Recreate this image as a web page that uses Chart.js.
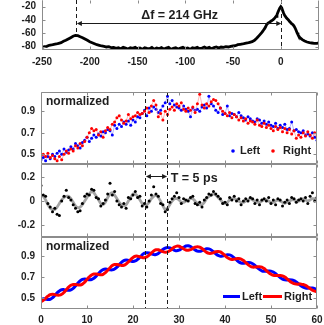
<!DOCTYPE html>
<html>
<head>
<meta charset="utf-8">
<script src="https://cdn.jsdelivr.net/npm/chart.js@4.4.1/dist/chart.umd.min.js"></script>
<style>
    html, body { margin: 0; padding: 0; background: #fff; }
    #wrap { position: relative; width: 324px; height: 325px; overflow: hidden; }
    canvas { position: absolute; left: 0; }
</style>
</head>
<body>
<div id="wrap">
    <canvas id="spec" width="324" height="70" style="top:0px;width:324px;height:70px"></canvas>
    <canvas id="raw" width="324" height="80" style="top:88px;width:324px;height:80px"></canvas>
    <canvas id="diff" width="324" height="81" style="top:160px;width:324px;height:81px"></canvas>
    <canvas id="fit" width="324" height="92" style="top:233px;width:324px;height:92px"></canvas>
</div>
<script>
// ---- spectrum (GHz, dB) ----
const specF = [
    -250, -247.5, -245, -242.5, -240, -237.5, -235, -232.5, -230, -227.5,
    -225, -222.5, -220, -217.5, -215, -212.5, -210, -207.5, -205, -202.5,
    -200, -197.5, -195, -192.5, -190, -187.5, -185, -182.5, -180, -177.5,
    -175, -172.5, -170, -167.5, -165, -162.5, -160, -157.5, -155, -152.5,
    -150, -147.5, -145, -142.5, -140, -137.5, -135, -132.5, -130, -127.5,
    -125, -122.5, -120, -117.5, -115, -112.5, -110, -107.5, -105, -102.5,
    -100, -97.5, -95, -92.5, -90, -87.5, -85, -82.5, -80, -77.5,
    -75, -72.5, -70, -67.5, -65, -62.5, -60, -57.5, -55, -52.5,
    -50, -47.5, -45, -42.5, -40, -37.5, -35, -32.5, -30, -27.5,
    -25, -22.5, -20, -19, -18, -17, -16, -15, -14, -13,
    -12, -11, -10, -9, -8, -7, -6, -5, -4, -3,
    -2, -1, 0, 1, 2, 3, 4, 5, 6, 7,
    8, 9, 10, 11, 12, 13, 14, 15, 16, 17,
    18, 19, 20, 22.5, 25, 27.5, 30, 32.5, 35, 37.5, 40
];
const specP = [
    -81, -80, -79.5, -78, -77.5, -76.5, -76, -75, -74, -72,
    -70.5, -68.5, -66.5, -64.5, -63, -63.5, -65, -66.5, -68.5, -70.5,
    -72.5, -74, -75.5, -77, -78, -79, -79.5, -80.5, -80, -81.5,
    -81, -82.5, -81.5, -83, -81, -82, -83.5, -81.5, -82.5, -81,
    -83, -82, -84, -81.5, -82.5, -83, -81, -84, -82, -83,
    -81.5, -83.5, -82, -81, -84, -82.5, -81.5, -83.5, -82, -81,
    -83, -82, -84, -81.5, -82.5, -81, -83, -82, -80.5, -82.5,
    -81, -83, -81.5, -80.5, -82, -80.5, -81, -80, -80.5, -79.5,
    -79, -78.5, -77, -76.5, -76, -75, -74.5, -73.5, -72.5, -70.5,
    -67, -63, -59, -57, -55, -53, -50.5, -47.5, -45.5, -44.5,
    -43.5, -42.5, -41.5, -40.5, -39.5, -38, -36.5, -34.5, -32, -28.5,
    -25, -22, -20, -22, -26, -30, -33, -35, -37, -38.5,
    -40, -42, -43.5, -45, -46, -47.5, -49.5, -52, -55.5, -59,
    -62, -64.5, -66.5, -69.5, -71.5, -73, -74, -74.5, -75, -75, -74.5
];
const specXTicks = [-250, -200, -150, -100, -50, 0];
const specYTicks = [-80, -60, -40, -20];
const peakPair = [-214, 0];

// ---- time traces (ps), sampled every 0.5 ps ----
const delay = Array.from({ length: 121 }, (_, i) => i * 0.5);

const dotLeft = [
    .45,
    .47, .44, .48, .46,  .50, .48, .51, .53,  .50, .55, .52, .54,  .57, .55, .60, .58,
    .56, .61, .63, .66,  .62, .65, .68, .66,  .69, .67, .71, .70,  .73, .72, .68, .77,
    .74, .78, .76, .80,  .78, .81, .77, .82,  .80, .85, .84, .88,  .91, .86, .93, .90,
    .94, .92, .89, .91,  .95, .98, 1.04, .97, 1.0, .96, .94, .93,  .91, .95, .92, .90,
    .85, .93, .91, .92,  .90, .94, .96, .93,  1.04, .97, .95, .91, .89, .93, .87, .88,
    .95, .86, .88, .87,  .85, .89, .86, .84,  .82, .85, .83, .81,  .80, .83, .82, .79,
    .81, .78, .80, .77,  .76, .79, .74, .77,  .75, .78, .73, .74,  .80, .72, .73, .71,
    .70, .72, .68, .69,  .67, .70, .66, .63
];
const dotRight = [
    .49,
    .50, .48, .51, .47,  .49, .46, .44, .48,  .45, .50, .53, .51,  .55, .53, .58, .56,
    .60, .58, .62, .66,  .70, .74, .72, .73,  .68, .71, .66, .72,  .75, .73, .78, .80,
    .84, .86, .82, .79,  .81, .87, .83, .85,  .86, .89, .87, .88,  .90, .93, .89, .95,
    1.0, .96, .85, .88,  .82, .90, .87, .92,  .94, .91, .97, .95,  .98, .92, .90, .93,
    .91, .94, .89, .97,  1.06, .96, .93, .97, .95, .99, 1.01, 1.0, .97, .93, .90, .88,
    .86, .89, .84, .87,  .85, .82, .84, .81,  .83, .79, .81, .80,  .78, .82, .77, .76,
    .79, .75, .77, .74,  .72, .76, .73, .75,  .71, .74, .70, .73,  .69, .72, .65, .68,
    .66, .70, .67, .71,  .68, .65, .70, .67
];

const diffDots = [
    .13, .05, .04, -.02, -.05, -.09, -.06, -.11, -.12, .00,
    .04, .09, .03, .01, -.03, -.06, -.09, -.08, -.02, .04,
    .06, .05, .10, .09, .03, .02, -.04, -.02, .01, .06,
    .15, .05, .08, .00, -.03, -.05, -.02, -.06, .03, .02,
    .05, .08, .03, .04, -.04, -.02, -.05, .00, .05, .12,
    .06, .04, -.02, -.03, -.09, -.07, -.01, .02, .04, .07,
    .03, -.02, .02, .01, .00, .03, .04, -.02, -.03, -.01,
    -.05, .01, .03, .06, .05, .08, .06, .04, .02, -.02,
    -.01, -.03, .03, .01, .04, .00, .02, -.03, .00, .02,
    .00, .03, .02, -.02, .01, -.03, .01, .02, .00, .03,
    -.02, .01, -.03, .02, .01, -.04, -.01, .01, -.02, .03,
    .02, -.01, .01, .02, .00, .03, -.02, .04, .07, .00,
    .03
];
const diffSmooth = [
    .05, .04, .01, -.03, -.06, -.07, -.07, -.05, -.02, .01,
    .03, .04, .04, .02, -.01, -.04, -.055, -.05, -.03, .00,
    .03, .06, .08, .07, .04, .01, -.02, -.03, -.01, .03,
    .06, .07, .05, .02, -.01, -.03, -.04, -.03, .00, .03,
    .06, .06, .04, .01, -.02, -.03, -.03, -.01, .02, .04,
    .05, .03, .00, -.04, -.07, -.06, -.03, .00, .02, .02,
    .01, -.01, -.01, .00, .01, .02, .02, .00, -.02, -.03,
    -.03, -.01, .02, .04, .05, .06, .05, .03, .01, -.01,
    -.02, -.01, .01, .02, .02, .01, .00, -.01, -.01, .00,
    .01, .02, .01, .00, -.01, -.01, .00, .01, .01, .00,
    -.01, -.01, .00, .01, .00, -.01, -.02, -.01, .00, .01,
    .01, .00, .00, .01, .02, .01, .00, .01, .02, .02,
    .01
];

const fitLeft = [
    .491, .496, .493, .490, .492, .506, .528, .552, .571, .582,
    .583, .579, .576, .580, .594, .617, .642, .665, .679, .684,
    .681, .677, .679, .690, .710, .734, .757, .772, .777, .774,
    .770, .770, .778, .795, .818, .841, .857, .862, .859, .853,
    .849, .854, .869, .890, .912, .927, .932, .929, .921, .914,
    .915, .925, .943, .962, .976, .981, .977, .966, .955, .950,
    .955, .968, .983, .995, .998, .990, .974, .958, .947, .945,
    .951, .961, .969, .968, .958, .941, .921, .906, .899, .901,
    .907, .913, .911, .901, .883, .863, .845, .835, .832, .836,
    .839, .838, .828, .811, .792, .774, .761, .756, .757, .759,
    .758, .749, .734, .715, .697, .683, .676, .675, .676, .674,
    .667, .654, .637, .620, .606, .599, .597, .598, .598, .593,
    .583
];
const fitRight = [
    .469, .482, .501, .521, .536, .540, .536, .531, .531, .539,
    .557, .582, .606, .624, .632, .631, .628, .627, .635, .654,
    .679, .703, .721, .730, .730, .726, .723, .728, .743, .766,
    .790, .810, .820, .821, .816, .811, .813, .825, .845, .867,
    .887, .898, .899, .893, .886, .885, .892, .909, .929, .948,
    .959, .959, .951, .942, .936, .939, .951, .968, .985, .994,
    .993, .982, .969, .957, .954, .960, .972, .984, .989, .985,
    .971, .952, .935, .926, .926, .932, .941, .944, .939, .924,
    .905, .885, .873, .868, .871, .875, .877, .871, .858, .838,
    .819, .804, .796, .796, .798, .800, .795, .782, .763, .744,
    .728, .719, .716, .717, .717, .713, .702, .685, .666, .650,
    .639, .635, .635, .635, .632, .623, .609, .593, .578, .569,
    .565
];

const timeTicks = [0, 10, 20, 30, 40, 50, 60];
const normTicks = [0.5, 0.7, 0.9];
const diffTicks = [-0.2, 0, 0.2];
const periodPair = [22.7, 27.3];

const FONT = '"Liberation Sans", Arial, Helvetica, sans-serif';
const BOX = "#8c8c8c";
const INK = "#1e1e1e";
const BLUE = "#0000ff";
const RED = "#ff0000";

const pts = (xs, ys) => ys.map((v, i) => ({ x: xs[i], y: v }));

// scales stay hidden; the frame plugin draws box, ticks and labels from them
const axis = (min, max) => ({ type: "linear", display: false, min, max });

function arrow(ctx, x1, x2, y) {
    const h = 5, w = 2.5;
    ctx.beginPath();
    ctx.moveTo(x1 + h - 1, y); ctx.lineTo(x2 - h + 1, y);
    ctx.stroke();
    ctx.beginPath();
    ctx.moveTo(x1, y); ctx.lineTo(x1 + h, y - w); ctx.lineTo(x1 + h, y + w); ctx.closePath();
    ctx.moveTo(x2, y); ctx.lineTo(x2 - h, y - w); ctx.lineTo(x2 - h, y + w); ctx.closePath();
    ctx.fill();
}

function label(ctx, text, x, y, size, align) {
    ctx.font = `bold ${size}px ${FONT}`;
    ctx.fillStyle = INK;
    ctx.textAlign = align || "left";
    ctx.textBaseline = "middle";
    ctx.fillText(text, x, y);
}

// box, inward ticks, tick labels, dashed markers and annotations (MATLAB look)
function frame(o) {
    return {
        id: "frame",
        afterDraw(chart) {
            const { ctx, chartArea: a } = chart;
            const sx = chart.scales.x, sy = chart.scales.y;
            ctx.save();

            ctx.strokeStyle = "#1a1a1a";
            ctx.lineWidth = 1;
            ctx.setLineDash([4, 3]);
            (o.marks || []).forEach(m => {
                const px = Math.round(sx.getPixelForValue(m.x)) + 0.5;
                const y0 = m.from != null ? sy.getPixelForValue(m.from) : a.top;
                const y1 = m.to != null ? sy.getPixelForValue(m.to) : a.bottom;
                ctx.beginPath(); ctx.moveTo(px, y0); ctx.lineTo(px, y1); ctx.stroke();
            });
            ctx.setLineDash([]);

            if (o.arrow) {
                ctx.fillStyle = "#1a1a1a";
                arrow(ctx, sx.getPixelForValue(o.arrow[0]) + 0.5, sx.getPixelForValue(o.arrow[1]) + 0.5,
                    Math.round(sy.getPixelForValue(o.arrow[2])) + 0.5);
            }

            const L = Math.round(a.left) + 0.5, R = Math.round(a.right) - 0.5;
            const T = Math.round(a.top) + 0.5, B = Math.round(a.bottom) - 0.5;
            ctx.strokeStyle = BOX;
            ctx.beginPath();
            ctx.moveTo(L, T); ctx.lineTo(L, B); ctx.lineTo(R, B); ctx.lineTo(R, T);
            if (!o.noTop) ctx.lineTo(L, T);
            o.xt.forEach(v => {
                const p = Math.round(sx.getPixelForValue(v)) + 0.5;
                ctx.moveTo(p, B); ctx.lineTo(p, B - 3);
                ctx.moveTo(p, T); ctx.lineTo(p, T + 3);
            });
            o.yt.forEach(v => {
                const p = Math.round(sy.getPixelForValue(v)) + 0.5;
                ctx.moveTo(L, p); ctx.lineTo(L + 3, p);
                ctx.moveTo(R, p); ctx.lineTo(R - 3, p);
            });
            ctx.stroke();

            o.yt.forEach(v => label(ctx, String(v), a.left - 6, sy.getPixelForValue(v), 10, "right"));
            if (o.xLabels) {
                o.xt.forEach(v => label(ctx, String(v), sx.getPixelForValue(v), a.bottom + o.xLabels, 10, "center"));
            }

            if (o.draw) o.draw(ctx, a, sx, sy);
            ctx.restore();
        }
    };
}

function base(pad, scales) {
    return {
        responsive: false,
        animation: false,
        devicePixelRatio: 1,
        events: [],
        layout: { autoPadding: false, padding: pad },
        plugins: { legend: { display: false }, tooltip: { enabled: false } },
        scales
    };
}

// panel 1: spectrum
new Chart(document.getElementById("spec"), {
    type: "scatter",
    data: {
        datasets: [{
            data: pts(specF, specP),
            showLine: true, borderColor: "#000", borderWidth: 2.8,
            pointRadius: 0, tension: 0
        }]
    },
    options: base({ top: 0, right: 5, bottom: 20, left: 42 }, {
        x: axis(-250, 40),
        y: axis(-85, -10)
    }),
    plugins: [frame({
        xt: specXTicks, yt: specYTicks, noTop: true, xLabels: 12,
        marks: [{ x: peakPair[0], to: -63 }, { x: peakPair[1] }],
        arrow: [peakPair[0], peakPair[1], -44.5],
        draw(ctx, a, sx, sy) {
            label(ctx, "\u0394f = 214 GHz", sx.getPixelForValue(-106), sy.getPixelForValue(-34), 12.5, "center");
        }
    })]
});

// panel 2: measured traces
new Chart(document.getElementById("raw"), {
    type: "scatter",
    data: {
        datasets: [
            {
                data: pts(delay, dotRight), showLine: true,
                borderColor: "rgba(255,120,120,0.55)", borderWidth: 1,
                pointRadius: 1.5, pointBorderWidth: 0, pointBackgroundColor: RED, order: 0
            },
            {
                data: pts(delay, dotLeft), showLine: true,
                borderColor: "rgba(120,120,255,0.55)", borderWidth: 1,
                pointRadius: 1.5, pointBorderWidth: 0, pointBackgroundColor: BLUE, order: 1
            }
        ]
    },
    options: base({ top: 4, right: 7, bottom: 4, left: 41 }, {
        x: axis(0, 60),
        y: axis(0.41, 1.08)
    }),
    plugins: [frame({
        xt: timeTicks, yt: normTicks,
        marks: periodPair.map(x => ({ x })),
        draw(ctx, a) {
            label(ctx, "normalized", a.left + 5, a.top + 10, 12);
            const y = a.bottom - 13, r = a.right;
            ctx.fillStyle = BLUE;
            ctx.beginPath(); ctx.arc(r - 84, y, 1.8, 0, Math.PI * 2); ctx.fill();
            ctx.fillStyle = RED;
            ctx.beginPath(); ctx.arc(r - 44, y, 1.8, 0, Math.PI * 2); ctx.fill();
            label(ctx, "Left", r - 77, y, 11);
            label(ctx, "Right", r - 34, y, 11);
        }
    })]
});

// panel 3: difference
new Chart(document.getElementById("diff"), {
    type: "scatter",
    data: {
        datasets: [
            {
                data: pts(delay, diffDots),
                pointRadius: 1.5, pointBorderWidth: 0, pointBackgroundColor: "#000", order: 0
            },
            {
                data: pts(delay, diffSmooth), showLine: true,
                borderColor: "#a4a4a4", borderWidth: 2.8, pointRadius: 0, tension: 0.2, order: 1
            }
        ]
    },
    options: base({ top: 4, right: 7, bottom: 4, left: 41 }, {
        x: axis(0, 60),
        y: axis(-0.3, 0.31)
    }),
    plugins: [frame({
        xt: timeTicks, yt: diffTicks,
        marks: periodPair.map(x => ({ x })),
        arrow: [periodPair[0], periodPair[1], 0.21],
        draw(ctx, a, sx, sy) {
            label(ctx, "T = 5 ps", sx.getPixelForValue(28.2), sy.getPixelForValue(0.19), 12.5);
        }
    })]
});

// panel 4: fitted traces
new Chart(document.getElementById("fit"), {
    type: "scatter",
    data: {
        datasets: [
            {
                data: pts(delay, fitRight), showLine: true,
                borderColor: RED, borderWidth: 3, pointRadius: 0, tension: 0.4, order: 0
            },
            {
                data: pts(delay, fitLeft), showLine: true,
                borderColor: BLUE, borderWidth: 3, pointRadius: 0, tension: 0.4, order: 1
            }
        ]
    },
    options: base({ top: 4, right: 7, bottom: 16, left: 41 }, {
        x: axis(0, 60),
        y: axis(0.4, 1.08)
    }),
    plugins: [frame({
        xt: timeTicks, yt: normTicks, xLabels: 11,
        marks: periodPair.map(x => ({ x })),
        draw(ctx, a) {
            label(ctx, "normalized", a.left + 5, a.top + 10, 12);
            const y = Math.round(a.bottom - 13) + 0.5, r = a.right;
            ctx.lineWidth = 3;
            ctx.strokeStyle = BLUE;
            ctx.beginPath(); ctx.moveTo(r - 94, y); ctx.lineTo(r - 77, y); ctx.stroke();
            ctx.strokeStyle = RED;
            ctx.beginPath(); ctx.moveTo(r - 54, y); ctx.lineTo(r - 35, y); ctx.stroke();
            label(ctx, "Left", r - 75, y, 11);
            label(ctx, "Right", r - 33, y, 11);
        }
    })]
});
</script>
</body>
</html>
